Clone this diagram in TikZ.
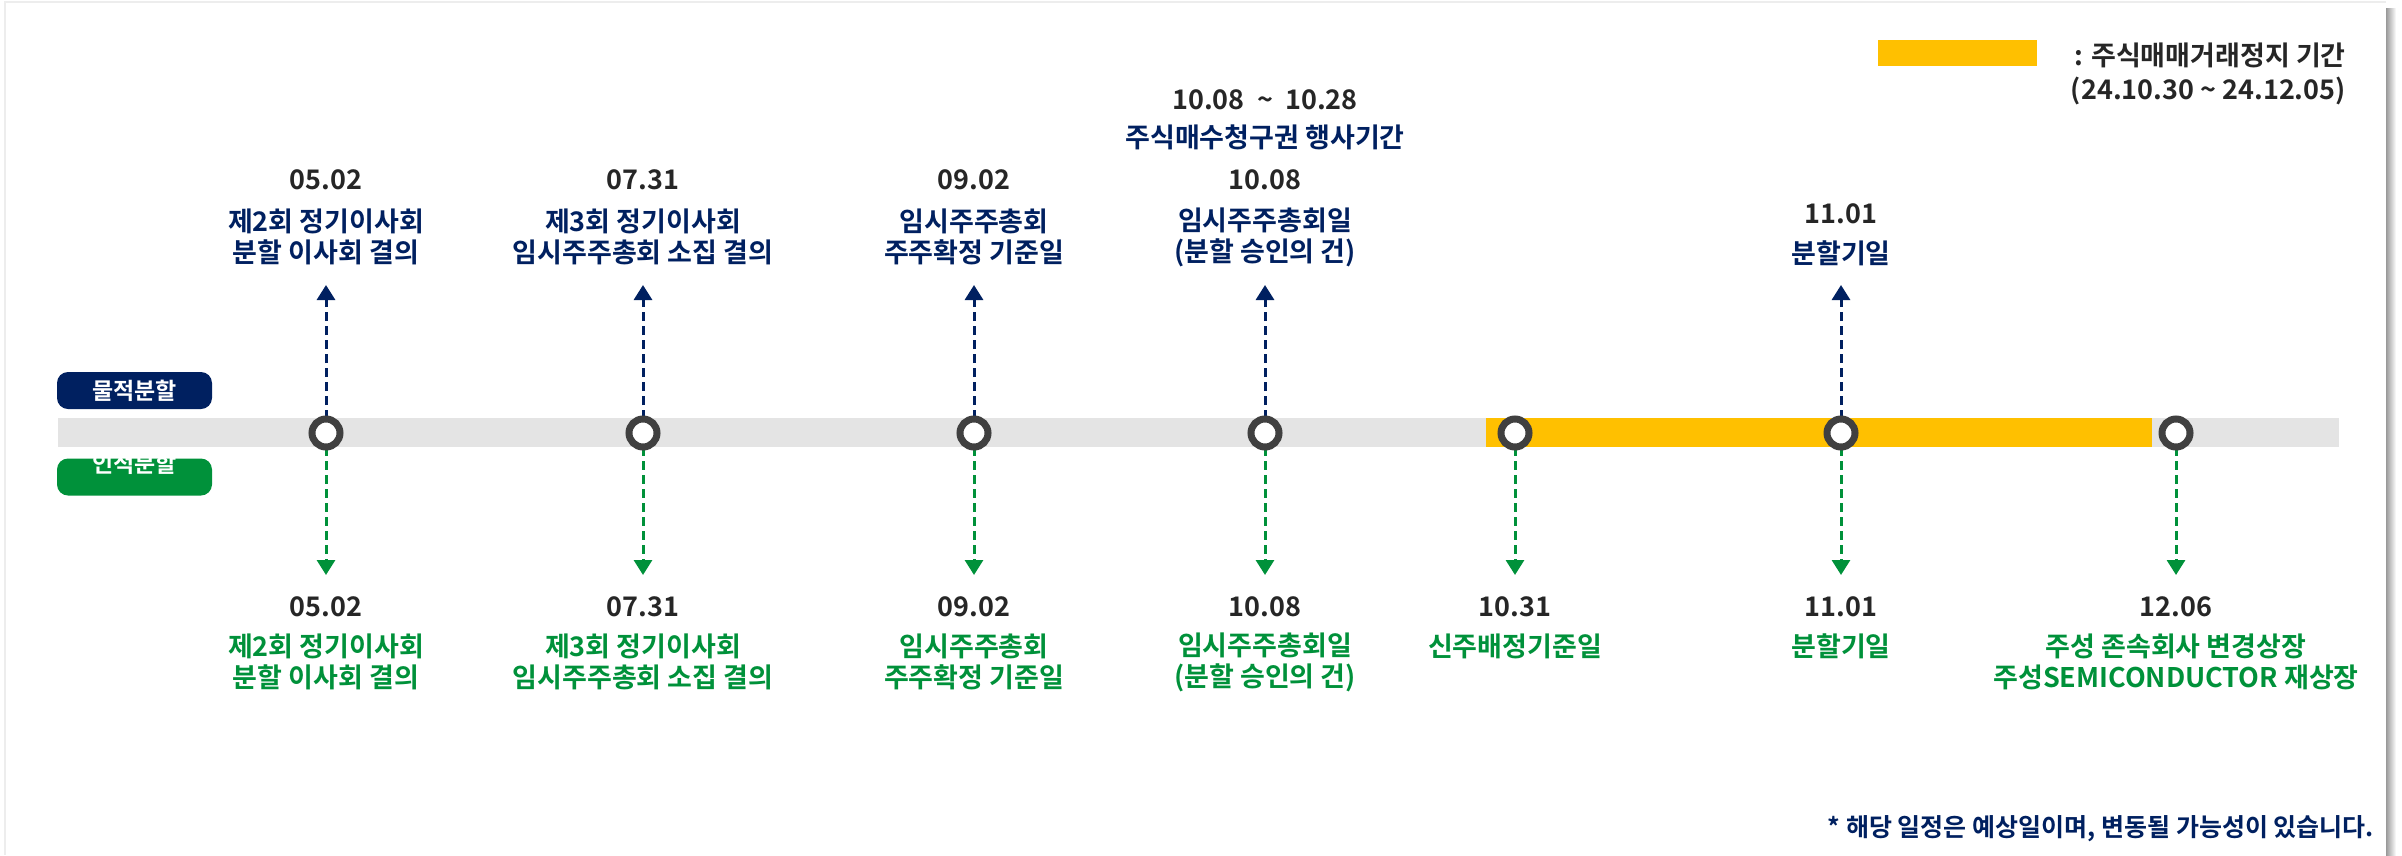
\documentclass[tikz,border=0pt]{standalone}
\usepackage{fontspec}
\setmainfont{Noto Sans CJK KR}[BoldFont={Noto Sans CJK KR Bold}]
\usetikzlibrary{arrows.meta}
\definecolor{navy}{HTML}{002060}
\definecolor{grn}{HTML}{00913A}
\definecolor{bargray}{HTML}{E4E4E4}
\definecolor{amber}{HTML}{FFC000}
\definecolor{ring}{HTML}{404040}
\definecolor{datec}{HTML}{262626}
\begin{document}
\begin{tikzpicture}[x=1pt,y=-1pt,
  base/.style={font=\fontsize{27}{31}\selectfont\bfseries, inner sep=0pt, align=center},
  datelbl/.style={base, text=datec},
  toplbl/.style={base, text=navy},
  botlbl/.style={base, text=grn},
  dot/.style={circle, draw=ring, fill=white, line width=7pt, minimum size=28pt, inner sep=0pt},
  uparrow/.style={draw=navy, line width=3pt, dash pattern=on 9pt off 5pt, -{Triangle[width=18pt,length=15pt]}},
  downarrow/.style={draw=grn, line width=3pt, dash pattern=on 9pt off 5pt, -{Triangle[width=18pt,length=15pt]}},
  tagbox/.style={rounded corners=11pt, minimum width=155pt, minimum height=37pt, inner sep=0pt, text=white, font=\fontsize{23}{26}\selectfont\bfseries}
]
\useasboundingbox (0,0) rectangle (2402,855);
% card frame and shadow
\draw[black!7, line width=1.5pt] (5,855) -- (5,2) -- (2386,2);
\shade[left color=black!40, right color=white] (2386,8) rectangle (2396,855);

% timeline bar
\fill[bargray] (58,418) rectangle (2339,447);
\fill[amber] (1486,418) rectangle (2152,447);

% legend
\fill[amber] (1878,40) rectangle (2037,66);
\node[datelbl, anchor=east] (legA) at (2346,55) {: 주식매매거래정지 기간};
\node[datelbl, anchor=east] (legB) at (2346,91) {(24.10.30\ \textasciitilde\ 24.12.05)};

% tags
\node[tagbox, fill=navy] (phys) at (134.5,390.5) {물적분할};
\node[tagbox, fill=grn] (hum) at (134.5,477) {};
\node[base, text=white, font=\fontsize{23}{26}\selectfont\bfseries] (humtxt) at (134.5,464) {인적분할};

% coordinates for arrow tips
\foreach \i/\x in {1/326,2/643,3/974,4/1265,6/1841} {
  \coordinate (ut\i) at (\x,285);
}
\foreach \i/\x in {1/326,2/643,3/974,4/1265,5/1515,6/1841,7/2176} {
  \coordinate (dt\i) at (\x,575);
  \coordinate (cc\i) at (\x,433);
}
% arrows
\foreach \i in {1,2,3,4,6} { \draw[uparrow] (cc\i) -- (ut\i); }
\foreach \i in {1,2,3,4,5,6,7} { \draw[downarrow] (cc\i) -- (dt\i); }
% circles
\foreach \i in {1,...,7} { \node[dot] (c\i) at (cc\i) {}; }

% top labels
\node[datelbl] (td1) at (326,180) {05.02};
\node[toplbl] (tl1) at (326,237) {제2회 정기이사회\\분할 이사회 결의};
\node[datelbl] (td2) at (643,180) {07.31};
\node[toplbl] (tl2) at (643,237) {제3회 정기이사회\\임시주주총회 소집 결의};
\node[datelbl] (td3) at (974,180) {09.02};
\node[toplbl] (tl3) at (974,237) {임시주주총회\\주주확정 기준일};
\node[datelbl] (tp4) at (1265,100) {10.08\ \ \textasciitilde\ \ 10.28};
\node[toplbl] (tq4) at (1265,137) {주식매수청구권 행사기간};
\node[datelbl] (td4) at (1265,180) {10.08};
\node[toplbl] (tl4) at (1265,237) {임시주주총회일\\(분할 승인의 건)};
\node[datelbl] (td6) at (1841,214) {11.01};
\node[toplbl] (tl6) at (1841,253) {분할기일};

% bottom labels
\node[datelbl] (bd1) at (326,607) {05.02};
\node[botlbl] (bl1) at (326,662) {제2회 정기이사회\\분할 이사회 결의};
\node[datelbl] (bd2) at (643,607) {07.31};
\node[botlbl] (bl2) at (643,662) {제3회 정기이사회\\임시주주총회 소집 결의};
\node[datelbl] (bd3) at (974,607) {09.02};
\node[botlbl] (bl3) at (974,662) {임시주주총회\\주주확정 기준일};
\node[datelbl] (bd4) at (1265,607) {10.08};
\node[botlbl] (bl4) at (1265,662) {임시주주총회일\\(분할 승인의 건)};
\node[datelbl] (bd5) at (1515,607) {10.31};
\node[botlbl] (bl5) at (1515,646) {신주배정기준일};
\node[datelbl] (bd6) at (1841,607) {11.01};
\node[botlbl] (bl6) at (1841,646) {분할기일};
\node[datelbl] (bd7) at (2176,607) {12.06};
\node[botlbl] (bl7) at (2176,662) {주성 존속회사 변경상장\\주성SEMICONDUCTOR 재상장};

% footnote
\node[base, text=navy, font=\fontsize{25}{28}\selectfont\bfseries, anchor=east] (note) at (2374,829) {* 해당 일정은 예상일이며, 변동될 가능성이 있습니다.};
\end{tikzpicture}
\end{document}
